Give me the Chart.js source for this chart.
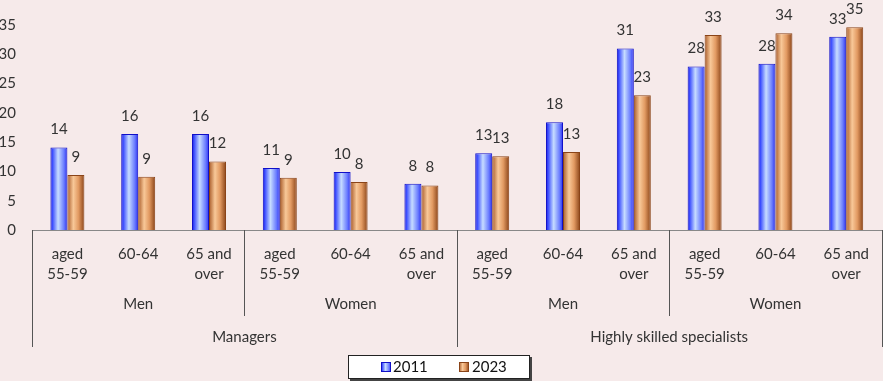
<!DOCTYPE html>
<html>
<head>
<meta charset="utf-8">
<script src="https://cdn.jsdelivr.net/npm/chart.js@4.4.1/dist/chart.umd.min.js"></script>
<style>
  html, body { margin: 0; padding: 0; background: #F6EAEA; }
  #wrap { width: 883px; height: 381px; position: relative; }
</style>
</head>
<body>
<div id="wrap"><canvas id="c" width="883" height="381"></canvas></div>
<script>
// ---- Data ----
const ageLabels = [["aged", "55-59"], "60-64", ["65 and", "over"],
                   ["aged", "55-59"], "60-64", ["65 and", "over"],
                   ["aged", "55-59"], "60-64", ["65 and", "over"],
                   ["aged", "55-59"], "60-64", ["65 and", "over"]];
const sexLabels = ["Men", "Women", "Men", "Women"];
const occupationLabels = ["Managers", "Highly skilled specialists"];
const seriesNames = ["2011", "2023"];
const values2011 = [14.1, 16.4, 16.4, 10.6, 9.9, 7.9, 13.1, 18.4, 31.0, 27.9, 28.4, 33.0];
const values2023 = [9.4, 9.1, 11.7, 8.9, 8.2, 7.6, 12.6, 13.3, 23.0, 33.3, 33.6, 34.6];
const yTicks = [0, 5, 10, 15, 20, 25, 30, 35];

const FONT = "Lato, 'Open Sans', sans-serif";

function blueGrad(ctx, x0, x1) {
  const g = ctx.createLinearGradient(x0, 0, x1, 0);
  g.addColorStop(0, '#1414d8');
  g.addColorStop(0.12, '#3a4cff');
  g.addColorStop(0.45, '#c6dcff');
  g.addColorStop(0.8, '#6a7cff');
  g.addColorStop(1, '#2a30f0');
  return g;
}
function orangeGrad(ctx, x0, x1) {
  const g = ctx.createLinearGradient(x0, 0, x1, 0);
  g.addColorStop(0, '#a85a28');
  g.addColorStop(0.35, '#f8c898');
  g.addColorStop(0.65, '#e29a62');
  g.addColorStop(1, '#8a4418');
  return g;
}
const gradFns = [blueGrad, orangeGrad];
const borderCols = ['#1010c8', '#8a4418'];

const gradientPlugin = {
  id: 'gradientBars',
  beforeDatasetsDraw(chart) {
    const ctx = chart.ctx;
    chart.data.datasets.forEach((ds, di) => {
      const meta = chart.getDatasetMeta(di);
      meta.data.forEach(el => {
        const half = el.width / 2;
        el.options.backgroundColor = gradFns[di](ctx, el.x - half, el.x + half);
      });
    });
  },
  afterDatasetsDraw(chart) {
    const ctx = chart.ctx;
    ctx.save();
    ctx.font = "15px " + FONT;
    ctx.fillStyle = '#333333';
    ctx.textAlign = 'center';
    ctx.textBaseline = 'middle';
    chart.data.datasets.forEach((ds, di) => {
      const meta = chart.getDatasetMeta(di);
      meta.data.forEach((el, i) => {
        ctx.fillText(String(Math.round(ds.data[i])), el.x, el.y - 18);
      });
    });
    ctx.restore();
  }
};

const groupPlugin = {
  id: 'groupAxis',
  afterDraw(chart) {
    const ctx = chart.ctx;
    const xs = chart.scales.x;
    const n = ageLabels.length;
    const axisY = chart.chartArea.bottom;
    const boundary = (i) => {
      if (i <= 0) return xs.left;
      if (i >= n) return xs.right;
      return (xs.getPixelForValue(i - 1) + xs.getPixelForValue(i)) / 2;
    };
    ctx.save();
    ctx.strokeStyle = '#555555';
    ctx.lineWidth = 1;
    // occupation boundaries
    const occSize = n / occupationLabels.length;
    for (let k = 0; k <= occupationLabels.length; k++) {
      const x = Math.round(boundary(k * occSize)) + 0.5;
      ctx.beginPath(); ctx.moveTo(x, axisY); ctx.lineTo(x, axisY + 117); ctx.stroke();
    }
    const sexSize = n / sexLabels.length;
    for (let k = 1; k < sexLabels.length; k++) {
      if ((k * sexSize) % occSize === 0) continue;
      const x = Math.round(boundary(k * sexSize)) + 0.5;
      ctx.beginPath(); ctx.moveTo(x, axisY); ctx.lineTo(x, axisY + 86); ctx.stroke();
    }
    ctx.font = "15px " + FONT;
    ctx.fillStyle = '#333333';
    ctx.textAlign = 'center';
    ctx.textBaseline = 'middle';
    sexLabels.forEach((s, k) => {
      const cx = (boundary(k * sexSize) + boundary((k + 1) * sexSize)) / 2;
      ctx.fillText(s, cx, axisY + 74);
    });
    occupationLabels.forEach((s, k) => {
      const cx = (boundary(k * occSize) + boundary((k + 1) * occSize)) / 2;
      ctx.fillText(s, cx, axisY + 107);
    });
    // legend
    const lx = 348, ly = 355, lw = 182, lh = 24;
    ctx.fillStyle = '#444444';
    ctx.fillRect(lx + 2, ly + 2, lw, lh);
    ctx.fillStyle = '#ffffff';
    ctx.fillRect(lx, ly, lw, lh);
    ctx.strokeStyle = '#222222';
    ctx.strokeRect(lx + 0.5, ly + 0.5, lw - 1, lh - 1);
    const items = [{ bx: 381, tx: 393 }, { bx: 459, tx: 472 }];
    ctx.textAlign = 'left';
    items.forEach((it, i) => {
      const by = ly + 7;
      ctx.fillStyle = gradFns[i](ctx, it.bx, it.bx + 10);
      ctx.fillRect(it.bx, by, 10, 10);
      ctx.strokeStyle = borderCols[i];
      ctx.strokeRect(it.bx + 0.5, by + 0.5, 9, 9);
      ctx.fillStyle = '#111111';
      ctx.fillText(chart.data.datasets[i].label, it.tx, ly + 12.5);
    });
    ctx.restore();
  }
};

const chart = new Chart(document.getElementById('c'), {
  type: 'bar',
  data: {
    labels: ageLabels,
    datasets: [
      { label: seriesNames[0], data: values2011, backgroundColor: () => '#5060ff', borderColor: borderCols[0], borderWidth: 1 },
      { label: seriesNames[1], data: values2023, backgroundColor: () => '#e09050', borderColor: borderCols[1], borderWidth: 1 }
    ]
  },
  options: {
    responsive: false,
    animation: false,
    devicePixelRatio: 1,
    layout: { padding: { top: 23, right: 1, bottom: 34, left: 0 } },
    categoryPercentage: 0.48,
    barPercentage: 1,
    plugins: { legend: { display: false }, tooltip: { enabled: false } },
    scales: {
      x: {
        grid: { display: false, drawTicks: false },
        border: { display: true, color: '#888888', width: 1 },
        ticks: {
          autoSkip: false, maxRotation: 0, minRotation: 0,
          color: '#333333', padding: 14,
          font: { family: FONT, size: 15, lineHeight: 1.35 }
        },
        afterFit(scale) { scale.height = 117; }
      },
      y: {
        min: 0, max: 35,
        afterBuildTicks(scale) { scale.ticks = yTicks.map(v => ({ value: v })); },
        grid: { display: false, drawTicks: false },
        border: { display: false },
        ticks: { color: '#333333', padding: 16, font: { family: FONT, size: 15 } },
        afterFit(scale) { scale.width = 32; }
      }
    }
  },
  plugins: [gradientPlugin, groupPlugin]
});
</script>
</body>
</html>
